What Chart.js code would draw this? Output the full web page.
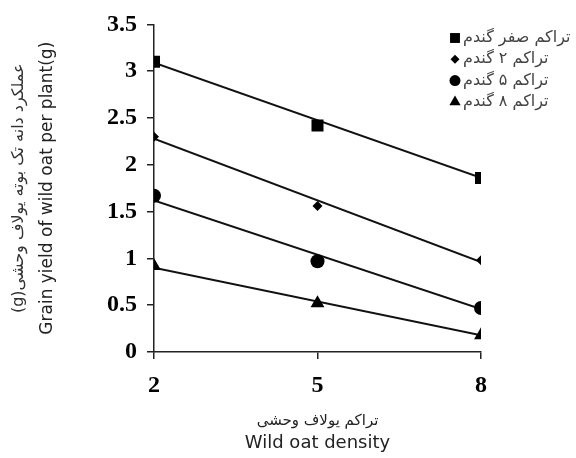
<!DOCTYPE html>
<html><head><meta charset="utf-8">
<script src="https://cdn.jsdelivr.net/npm/chart.js@4/dist/chart.umd.min.js"></script>
<style>html,body{margin:0;padding:0;background:#fff}#wrap{width:576px;height:458px}</style>
</head><body><div id="wrap"><canvas id="c" width="576" height="458"></canvas></div>
<script>
const densities = [2, 5, 8];
const seriesNames = ["تراکم صفر گندم", "تراکم ۲ گندم", "تراکم ۵ گندم", "تراکم ۸ گندم"];
const wheat0 = [3.10, 2.42, 1.86];
const wheat2 = [2.30, 1.56, 0.98];
const wheat5 = [1.67, 0.97, 0.47];
const wheat8 = [0.92, 0.52, 0.18];
const trendAt2 = [3.09, 2.28, 1.62, 0.90];
const trendAt8 = [1.86, 0.96, 0.46, 0.18];
const yTicks = [0, 0.5, 1, 1.5, 2, 2.5, 3, 3.5];
const xTicks = [2, 5, 8];
const xTitleFa = "تراکم یولاف وحشی";
const xTitleEn = "Wild oat density";
const yTitleFa = "(g)عملکرد دانه تک بوته یولاف وحشی";
const yTitleEn = "Grain yield of wild oat per plant(g)";

const series = [wheat0, wheat2, wheat5, wheat8];
const styles = [
  {pointStyle: 'rect', radius: 8.5, legendRadius: 7},
  {pointStyle: 'rectRot', radius: 5, legendRadius: 4.5},
  {pointStyle: 'circle', radius: 7, legendRadius: 5.5},
  {pointStyle: 'triangle', radius: 8, legendRadius: 6.5}
];

const datasets = [];
series.forEach((vals, i) => {
  datasets.push({
    label: 'trend' + i, type: 'line',
    data: [{x: densities[0], y: trendAt2[i]}, {x: densities[densities.length - 1], y: trendAt8[i]}],
    borderColor: '#111', borderWidth: 2, pointRadius: 0, showLine: true, fill: false, order: 2
  });
});
series.forEach((vals, i) => {
  datasets.push({
    label: seriesNames[i], type: 'scatter',
    data: vals.map((v, j) => ({x: densities[j], y: v})),
    pointStyle: styles[i].pointStyle, pointRadius: styles[i].radius,
    pointBackgroundColor: '#000', pointBorderColor: '#000', pointBorderWidth: 0,
    showLine: false, order: 1
  });
});

const legendPlugin = {
  id: 'customLegend',
  afterDraw(chart) {
    const ctx = chart.ctx;
    ctx.save();
    const x0 = 455, y0 = 38, dy = 21.3;
    ctx.font = '16px "DejaVu Sans"';
    ctx.textBaseline = 'middle';
    ctx.textAlign = 'left';
    seriesNames.forEach((name, i) => {
      const y = y0 + i * dy;
      ctx.fillStyle = '#000';
      ctx.strokeStyle = '#000';
      Chart.helpers.drawPoint(ctx, {pointStyle: styles[i].pointStyle, radius: styles[i].legendRadius, rotation: 0, borderWidth: 0}, x0, y);
      ctx.fillStyle = '#444';
      ctx.fillText(name, x0 + 8, y);
    });
    ctx.restore();
  }
};

new Chart(document.getElementById('c'), {
  type: 'scatter',
  data: {datasets},
  options: {
    responsive: false, animation: false,
    layout: {padding: {top: 17, right: 95, left: 0, bottom: 0}},
    plugins: {
      legend: {display: false}, tooltip: {enabled: false},
      title: {display: true, position: 'bottom', fullSize: false, text: xTitleEn, color: '#222',
        font: {family: '"DejaVu Sans"', size: 18, weight: 'normal'}, padding: {top: 0, bottom: 4.2}},
      subtitle: {display: true, position: 'left', fullSize: false, text: yTitleFa, color: '#333',
        font: {family: '"DejaVu Sans"', size: 16}, padding: {top: 9.4, bottom: 4}}
    },
    scales: {
      x: {
        type: 'linear', min: 2, max: 8,
        afterBuildTicks: s => { s.ticks = xTicks.map(v => ({value: v})); },
        afterFit: s => { s.height = 80.2; },
        grid: {display: true, drawOnChartArea: false, drawTicks: true, tickLength: 7, color: '#222', lineWidth: 1.5},
        border: {display: true, color: '#222', width: 1.5},
        ticks: {color: '#000', font: {family: '"Liberation Serif"', size: 24, weight: 'bold'}, padding: 12, maxRotation: 0},
        title: {display: true, text: xTitleFa, color: '#222',
          font: {family: '"DejaVu Sans"', size: 15}, padding: {top: 0, bottom: 2.2}}
      },
      y: {
        min: 0, max: 3.5,
        afterBuildTicks: s => { s.ticks = yTicks.map(v => ({value: v})); },
        afterFit: s => { s.width = 121.4; },
        grid: {display: true, drawOnChartArea: false, drawTicks: true, tickLength: 7, color: '#222', lineWidth: 1.5},
        border: {display: true, color: '#222', width: 1.5},
        ticks: {color: '#000', font: {family: '"Liberation Serif"', size: 24, weight: 'bold'}, padding: 10,
          callback: v => String(v)},
        title: {display: true, text: yTitleEn, color: '#222',
          font: {family: '"DejaVu Sans"', size: 17}, padding: {top: 4.7, bottom: 0}}
      }
    }
  },
  plugins: [legendPlugin]
});
</script>
</body></html>
